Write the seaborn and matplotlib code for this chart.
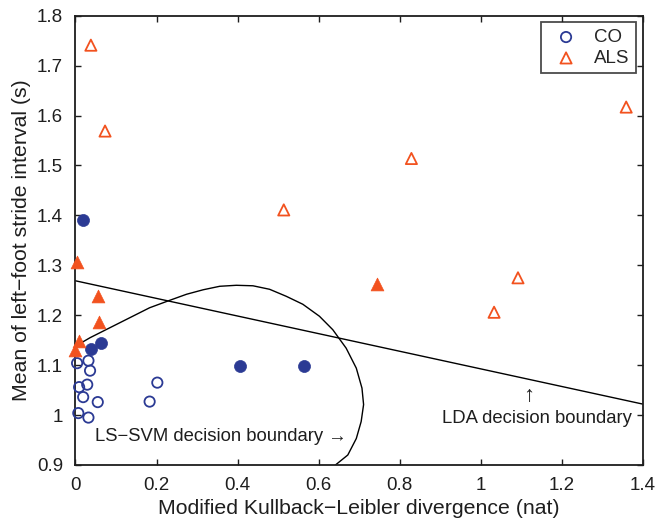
import numpy as np
import pandas as pd
import seaborn as sns
import matplotlib
matplotlib.use("Agg")
import matplotlib.pyplot as plt

sns.set_style("ticks")
plt.rcParams['font.family'] = ['Liberation Sans', 'DejaVu Sans']

# CO subjects (open = correctly classified, filled = misclassified)
co_open_kl = [0.004, 0.032, 0.036, 0.009, 0.029, 0.019, 0.055, 0.007, 0.032, 0.183, 0.202]
co_open_stride = [1.104, 1.109, 1.089, 1.056, 1.061, 1.036, 1.026, 1.004, 0.995, 1.027, 1.065]
co_fill_kl = [0.019, 0.038, 0.063, 0.405, 0.564]
co_fill_stride = [1.391, 1.132, 1.144, 1.099, 1.099]

# ALS subjects
als_open_kl = [0.038, 0.073, 0.514, 0.829, 1.033, 1.092, 1.359]
als_open_stride = [1.741, 1.569, 1.411, 1.514, 1.206, 1.275, 1.617]
als_fill_kl = [0.004, 0.056, 0.057, 0.009, 0.0, 0.743]
als_fill_stride = [1.307, 1.238, 1.186, 1.149, 1.130, 1.262]

# decision boundaries
lda_kl = [0.0, 1.4]
lda_stride = [1.269, 1.022]
svm_kl = [0.0, 0.036, 0.085, 0.134, 0.183, 0.233, 0.274, 0.315, 0.356, 0.397, 0.438,
          0.479, 0.520, 0.561, 0.602, 0.635, 0.668, 0.693, 0.707, 0.711, 0.705,
          0.693, 0.672, 0.640]
svm_stride = [1.138, 1.155, 1.175, 1.195, 1.215, 1.230, 1.242, 1.251, 1.258, 1.260, 1.259,
              1.252, 1.238, 1.222, 1.198, 1.171, 1.134, 1.094, 1.054, 1.021, 0.987,
              0.953, 0.920, 0.899]

blue = "#2b3a94"
orange = "#f2521f"
ink = "#1e1e1e"

fig = plt.figure(figsize=(6.62, 5.24), dpi=100)
ax = fig.add_axes([0.114, 0.1126, 0.857, 0.8574])

line_kw = dict(color="black", linewidth=1.0, sort=False, estimator=None, legend=False)
sns.lineplot(x=lda_kl, y=lda_stride, ax=ax, **line_kw)
sns.lineplot(x=svm_kl, y=svm_stride, ax=ax, **line_kw)

sns.scatterplot(x=co_open_kl, y=co_open_stride, marker="o", s=55, facecolor="none",
                edgecolor=blue, linewidth=1.3, label="CO", ax=ax, zorder=3, clip_on=False)
sns.scatterplot(x=als_open_kl, y=als_open_stride, marker="^", s=65, facecolor="none",
                edgecolor=orange, linewidth=1.3, label="ALS", ax=ax, zorder=3, clip_on=False)
sns.scatterplot(x=co_fill_kl, y=co_fill_stride, marker="o", s=75, color=blue,
                edgecolor=blue, linewidth=0.5, ax=ax, zorder=3, clip_on=False)
sns.scatterplot(x=als_fill_kl, y=als_fill_stride, marker="^", s=85, color=orange,
                edgecolor=orange, linewidth=0.5, ax=ax, zorder=3, clip_on=False)

ax.set_xlim(0, 1.4)
ax.set_ylim(0.9, 1.8)
ax.set_xticks(np.arange(0, 1.41, 0.2))
ax.set_yticks(np.arange(0.9, 1.81, 0.1))
ax.set_xticklabels([f"{v:g}" for v in np.round(np.arange(0, 1.41, 0.2), 1)])
ax.set_yticklabels([f"{v:g}" for v in np.round(np.arange(0.9, 1.81, 0.1), 1)])
ax.tick_params(direction="in", top=True, right=True, length=4.5, width=1.0,
               labelsize=13.5, colors=ink)
ax.tick_params(axis="x", pad=8.5)
ax.tick_params(axis="y", pad=9)
for sp in ax.spines.values():
    sp.set_linewidth(1.3)
    sp.set_color(ink)

ax.set_xlabel("Modified Kullback\u2212Leibler divergence (nat)", fontsize=15.3, color=ink,
              labelpad=4)
ax.set_ylabel("Mean of left\u2212foot stride interval (s)", fontsize=15.3, color=ink,
              labelpad=4)

ax.text(0.669, 0.957, "LS\u2212SVM decision boundary \u2192", ha="right", va="center",
        fontsize=13.3, color=ink)
ax.text(1.139, 0.994, "LDA decision boundary", ha="center", va="center",
        fontsize=13.3, color=ink)
ax.text(1.119, 1.039, "\u2191", ha="center", va="center", fontsize=16, color=ink)

leg = ax.legend(loc="upper right", fontsize=13.5, frameon=True, fancybox=False,
                edgecolor=ink, borderaxespad=0.35, handletextpad=0.5,
                handlelength=2.0, borderpad=0.35, labelspacing=0.2)
leg.get_frame().set_linewidth(1.3)

fig.savefig("out.png", dpi=100)
